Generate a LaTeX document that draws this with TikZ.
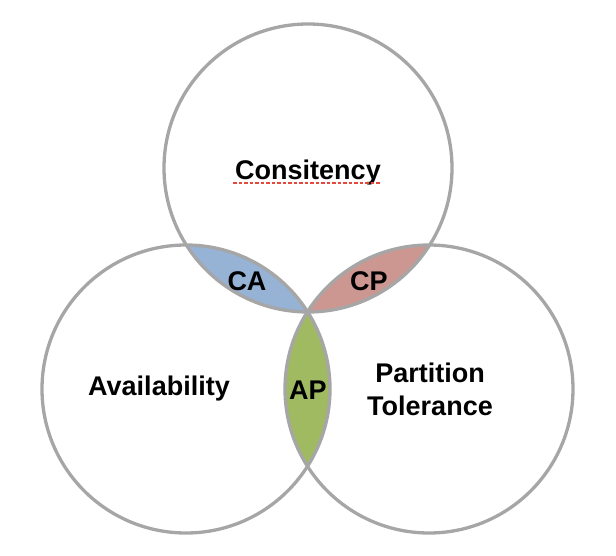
\documentclass[tikz,border=0pt]{standalone}
\usepackage{fontspec}
\setmainfont{Liberation Sans}
\definecolor{ring}{HTML}{A6A6A6}
\definecolor{cafill}{HTML}{96B2D4}
\definecolor{cpfill}{HTML}{CD9791}
\definecolor{apfill}{HTML}{A0BA62}
\definecolor{spell}{HTML}{E5483C}
\begin{document}
\begin{tikzpicture}[x=1pt,y=-1pt,
  ringline/.style={draw=ring,line width=3.3pt},
  lbl/.style={font=\fontsize{27}{33}\selectfont\bfseries,align=center,inner sep=0pt}]
\useasboundingbox (0,0) rectangle (616,556);
\coordinate (ct) at (308,168);
\coordinate (cl) at (186,389);
\coordinate (cr) at (429,389);
% lens fills
\begin{scope}
  \clip (ct) circle[radius=144pt];
  \fill[cafill] (cl) circle[radius=144pt];
  \fill[cpfill] (cr) circle[radius=144pt];
\end{scope}
\begin{scope}
  \clip (cl) circle[radius=144pt];
  \fill[apfill] (cr) circle[radius=144pt];
\end{scope}
% outlines
\draw[ringline] (ct) circle[radius=144pt];
\draw[ringline] (cl) circle[radius=144pt];
\draw[ringline] (cr) circle[radius=144pt];
% labels
\node[lbl] (cons) at (308,173) {Consitency};
\draw[spell,line width=2.5pt,dash pattern=on 3.5pt off 2pt]
  ([yshift=-3pt,xshift=-2pt]cons.base west) -- ([yshift=-3pt]cons.base east);
\node[lbl] (ca) at (247,281) {CA};
\node[lbl] (cp) at (369,281) {CP};
\node[lbl] (ap) at (308,390) {AP};
\node[lbl] (av) at (159,389) {Availability};
\node[lbl] (pt) at (430,389) {Partition\\Tolerance};
\end{tikzpicture}
\end{document}
